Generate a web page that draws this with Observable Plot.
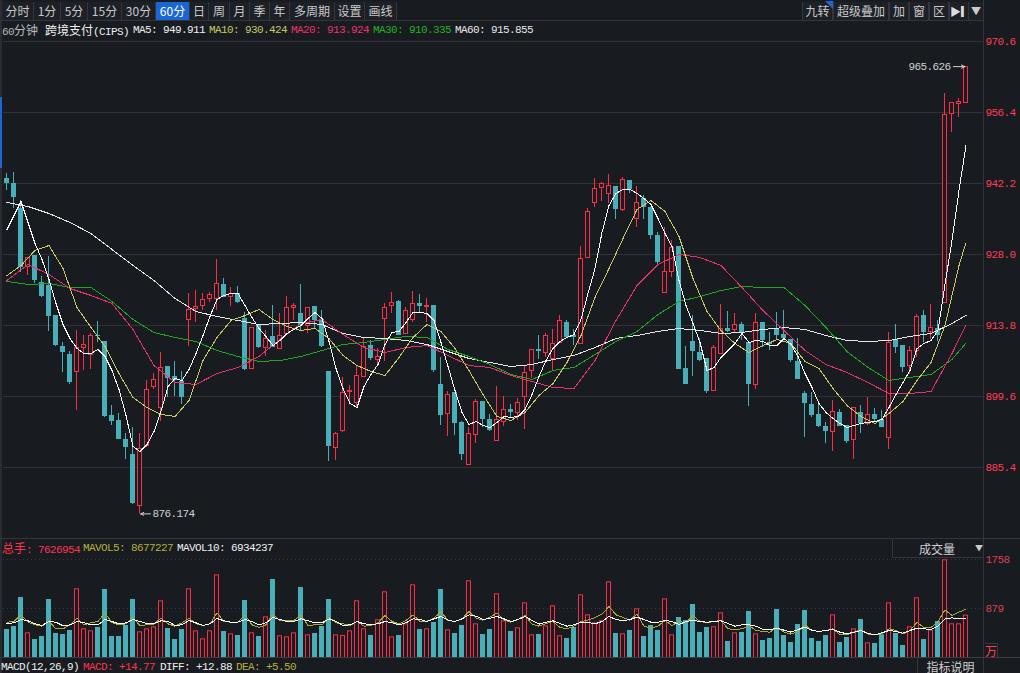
<!DOCTYPE html>
<html><head><meta charset="utf-8">
<script src="https://cdn.jsdelivr.net/npm/d3@7"></script>
<script src="https://cdn.jsdelivr.net/npm/@observablehq/plot@0.6"></script>
<style>
html,body{margin:0;padding:0;background:#181b20;width:1020px;height:673px;overflow:hidden}
#root{position:relative;width:1020px;height:673px;font-family:"Noto Sans CJK SC",sans-serif}
.abs{position:absolute;white-space:pre}
.mono{font-family:"Liberation Mono","Noto Sans CJK SC",monospace;font-size:11px;letter-spacing:-.6px;line-height:14px}
.cjk{font-family:"Noto Sans CJK SC",sans-serif;letter-spacing:0}
.btn{position:absolute;top:2px;height:18px;line-height:18px;text-align:center;font-size:12px;color:#c9c9c9;background:#1d2026;border-right:1px solid #34363b;box-sizing:border-box}
.btn.on{background:#1a66d6;color:#fff}
.ln{position:absolute;background:#33353a}
svg{display:block}
</style></head><body><div id="root"></div>
<script>
// ---------- price data ----------
const opens=[943.25,942.25,937.25,925.65,927.85,922.45,921.85,915.85,909.65,908.05,904.65,909.45,908.05,911.85,910.65,895.85,894.85,891.05,888.05,877.85,889.85,901.65,897.45,905.65,903.65,902.65,915.05,917.25,917.85,919.25,919.25,922.05,919.65,920.25,915.25,905.25,913.85,909.45,911.65,909.25,912.25,917.45,916.25,913.85,917.65,915.05,904.65,889.45,892.85,900.65,898.45,903.65,909.85,907.05,915.25,917.85,918.65,912.25,915.05,918.25,917.65,917.85,902.05,896.25,900.45,894.45,886.05,892.05,898.65,895.05,890.85,894.65,897.05,896.45,899.65,904.85,909.05,908.45,907.25,910.45,914.45,911.85,910.25,927.45,938.45,941.45,940.25,941.65,937.05,942.85,935.25,939.25,937.45,931.85,920.45,924.65,929.65,905.25,910.65,908.45,907.25,900.85,908.25,913.25,913.05,914.05,910.45,902.05,914.45,910.45,913.25,912.05,911.05,906.65,900.25,898.05,896.05,893.65,892.65,896.45,893.85,891.05,896.45,894.25,896.05,895.05,891.45,911.05,909.85,905.85,908.85,915.85,912.65,913.25,918.45,956.25,958.25,958.45];
const highs=[944.25,944.45,938.85,927.45,927.85,923.65,927.65,915.85,910.45,908.65,912.85,911.85,912.25,914.65,910.65,897.85,896.25,892.25,893.45,892.25,902.85,904.25,908.45,905.65,906.65,904.65,920.25,920.85,920.25,920.45,927.05,923.25,921.45,921.65,916.45,913.45,913.85,912.85,917.85,916.25,919.65,918.25,922.05,917.45,917.65,916.85,904.65,892.45,903.45,901.85,905.85,911.25,910.85,909.25,918.25,920.45,918.85,917.45,920.65,920.05,919.25,917.85,907.45,900.65,900.45,894.65,893.45,899.05,898.65,896.05,901.65,899.65,898.05,899.25,905.85,909.05,911.85,912.25,913.05,915.85,914.85,913.05,929.65,937.25,943.25,942.45,944.05,941.65,943.45,942.85,941.65,939.85,937.45,932.45,933.45,930.85,929.65,909.65,915.85,911.25,907.25,909.85,918.05,916.65,916.25,914.45,910.45,916.25,914.45,912.45,916.45,916.85,911.05,911.25,900.65,900.45,898.45,894.45,898.85,897.05,893.85,897.45,897.85,899.45,897.25,896.85,912.45,914.05,909.85,909.65,916.05,916.85,918.05,914.85,960.25,958.45,959.25,965.63];
const lows=[940.85,937.25,924.45,923.85,922.25,919.45,912.65,909.65,904.45,902.05,896.85,904.85,905.05,910.45,895.45,893.85,891.05,887.05,878.05,876.17,889.45,901.05,894.65,899.45,899.65,898.05,909.65,914.45,916.85,918.45,916.85,919.45,917.65,918.25,904.85,905.25,909.25,907.65,909.45,909.05,912.25,914.85,912.85,912.25,913.25,909.45,886.65,886.85,892.45,898.45,897.25,903.65,906.85,905.85,906.65,916.25,911.85,912.05,914.45,916.45,914.45,904.45,893.85,891.65,891.85,886.85,885.85,890.25,893.45,892.65,890.65,893.65,895.25,894.85,893.05,903.25,907.05,907.45,904.65,910.45,911.25,909.85,910.25,927.45,937.45,938.65,938.25,935.05,936.65,940.25,933.45,935.05,931.05,926.05,920.25,923.45,905.05,902.05,903.65,906.65,900.25,900.85,908.25,912.45,912.45,910.85,897.65,901.05,909.45,908.85,910.85,911.05,906.45,903.05,891.45,895.45,893.45,890.25,888.65,893.65,890.25,887.05,892.25,893.85,894.45,893.45,889.05,908.25,904.45,904.05,907.45,910.45,911.05,910.65,918.45,952.45,955.45,958.25];
const closes=[942.25,939.45,925.45,927.45,922.85,919.65,915.65,909.85,908.45,902.45,909.45,910.05,911.85,911.65,895.65,894.65,891.05,889.45,878.25,889.25,901.05,903.05,905.45,903.25,902.85,899.45,917.05,917.65,919.05,920.05,922.25,919.45,920.25,918.45,905.05,913.45,909.45,911.25,909.45,911.85,917.45,917.85,913.85,917.45,914.85,909.65,889.65,892.25,900.45,900.85,903.85,909.65,907.25,907.65,917.45,918.45,911.85,916.85,918.25,917.65,917.85,904.85,895.85,900.05,894.25,888.05,892.25,898.65,895.05,892.85,895.05,897.05,896.45,898.45,904.45,909.05,908.65,911.85,910.25,914.85,911.45,911.45,927.25,936.65,941.25,942.25,941.85,937.05,943.05,941.05,938.45,937.45,931.85,926.45,924.65,929.45,905.05,902.05,908.65,906.85,900.65,909.45,913.25,912.65,914.05,912.45,902.05,914.45,910.85,910.05,911.85,911.25,906.85,903.05,898.25,895.85,893.65,892.65,896.65,893.65,890.65,897.45,894.25,896.05,895.05,893.45,910.45,909.45,905.45,908.85,915.65,912.45,913.45,911.85,956.05,958.45,958.65,965.63];
const priceTicks=[970.6,956.4,942.2,928.0,913.8,899.6,885.4];
const ma5=[933.05,935.85,938.65,934.45,930.25,927.05,923.05,918.25,914.05,911.25,909.25,908.25,908.25,909.05,907.65,904.85,901.05,895.85,889.65,888.65,890.05,892.65,896.65,901.65,903.25,902.85,905.05,908.25,911.85,915.65,919.05,919.85,920.25,920.25,917.85,915.45,913.25,911.65,909.85,910.85,912.25,913.05,913.85,915.25,916.45,915.25,910.65,905.25,901.25,898.25,897.45,901.65,904.05,906.05,910.05,912.45,912.65,914.45,916.45,916.45,916.25,914.85,910.45,905.65,900.85,896.45,894.05,894.65,893.85,893.45,894.45,895.65,895.45,895.65,897.05,900.05,903.65,906.85,909.25,910.65,911.45,912.05,915.05,920.25,925.25,932.45,937.85,940.25,941.05,941.05,940.25,939.25,938.05,935.25,932.25,929.65,922.85,917.85,914.25,910.45,904.85,905.45,907.45,908.85,910.25,912.25,910.45,910.85,910.65,909.85,909.85,911.25,910.05,907.65,904.25,901.45,898.25,896.45,895.25,894.25,893.45,893.85,894.25,894.45,894.65,895.05,897.45,900.05,902.45,904.85,909.25,910.25,910.85,912.85,922.05,930.85,940.85,949.91];
const ma10Idx=[0,2,4,6,8,10,12,14,16,18,20,22,24,26,28,30,32,34,36,38,40,42,44,46,48,50,52,54,56,58,60,62,64,66,68,70,72,74,76,78,80,82,84,86,88,90,92,94,96,98,100,102,104,106,108,110,112,114,116,118,120,122,124,126,128,130,132,134,136,137];
const ma10=[923.85,925.85,928.85,929.85,925.25,917.45,913.45,909.65,904.25,899.45,897.45,896.05,895.65,898.85,906.85,911.45,914.85,915.85,917.05,915.05,913.65,912.85,913.25,911.25,907.85,905.85,904.65,903.85,907.45,911.45,914.05,912.65,909.25,904.85,900.05,895.65,894.85,896.45,899.85,902.25,906.45,911.85,919.45,925.25,931.25,937.05,938.85,936.65,931.65,923.25,916.65,912.85,910.25,908.45,909.85,911.05,910.25,906.65,905.25,901.25,897.85,895.65,894.25,896.25,898.65,902.85,906.45,913.85,925.85,930.42];
const slowIdx=[0,3,6,9,12,15,18,21,24,27,30,33,36,39,42,45,48,51,54,57,60,63,66,69,72,75,78,81,84,87,90,93,96,99,102,105,108,111,114,117,120,123,126,129,132,135,137];
const ma20=[922.85,926.05,924.05,921.25,919.85,918.25,913.05,905.85,902.45,902.05,904.25,905.45,907.65,911.05,914.25,915.05,912.05,909.45,908.45,909.45,909.85,907.85,905.85,905.45,903.85,902.65,901.45,901.25,906.85,914.85,921.85,926.05,928.05,927.45,925.85,921.45,916.85,912.85,908.85,906.05,904.45,902.45,900.25,900.25,900.65,908.25,913.92];
const ma30=[922.65,922.05,922.25,921.45,921.45,918.65,915.05,912.45,911.45,910.65,908.85,907.65,906.65,906.85,907.65,908.85,910.05,910.45,911.05,911.65,911.45,909.05,907.65,906.05,904.05,903.05,904.85,905.45,908.05,910.65,912.65,916.05,918.65,919.65,920.85,921.65,921.45,921.45,917.85,913.45,908.65,905.45,902.85,903.45,904.05,907.05,910.34];
const ma60=[938.45,937.65,936.25,934.45,932.25,929.05,925.85,922.85,919.25,916.65,915.65,914.85,914.05,914.25,914.45,914.05,912.25,911.45,911.25,910.85,910.05,908.65,907.25,906.45,905.65,906.05,907.05,907.85,909.45,911.25,911.85,912.65,913.25,912.85,912.25,912.45,913.05,913.45,913.05,911.85,910.85,910.65,910.85,911.65,912.25,914.25,915.86];
const maxLabel=965.626, minLabel=876.174;
// ---------- volume data (万手) ----------
const volume=[504,558,1080,444,324,378,1044,432,414,486,1236,516,480,540,1224,378,378,576,1044,462,516,552,1020,522,324,504,1236,480,336,480,1488,468,426,396,1026,444,378,732,1404,390,372,444,1260,408,432,558,1044,408,396,480,1020,516,396,678,1182,372,396,606,1308,504,516,630,1224,498,432,576,1380,606,414,504,1146,660,468,534,984,408,414,570,930,390,342,540,1128,768,624,660,1362,432,426,486,876,378,576,486,1056,408,720,666,954,450,540,552,804,288,444,450,828,426,306,342,864,396,270,594,846,342,288,396,768,270,360,516,684,264,252,408,984,432,216,552,1074,324,492,648,1758,606,606,763];
const mavol5=[636,648,768,636,588,564,648,516,516,588,708,588,624,648,804,624,588,606,714,576,588,600,708,606,564,624,708,606,576,606,804,648,636,636,768,588,540,588,786,660,660,666,768,576,588,588,726,624,606,576,648,564,576,624,756,648,606,666,768,648,654,708,828,666,648,696,828,708,672,726,804,672,636,684,756,600,564,612,648,540,516,564,648,672,720,780,918,768,720,672,780,564,528,564,666,576,648,624,756,648,624,648,666,516,504,516,576,486,468,456,546,456,420,468,588,486,468,486,516,408,408,456,504,420,408,426,516,486,426,486,636,534,540,648,858,756,816,868];
const mavol10=[612,624,684,660,606,576,648,636,570,588,648,624,588,588,684,648,606,624,684,648,612,612,660,648,576,588,666,624,576,606,702,660,636,636,684,648,588,624,720,684,648,648,696,660,624,624,696,648,576,588,648,606,594,606,648,624,588,624,696,684,648,696,738,672,648,696,768,744,684,708,738,696,648,684,738,666,600,636,660,612,564,588,636,630,606,648,738,684,660,684,726,684,636,636,666,648,594,648,672,648,636,648,660,612,564,588,588,564,504,504,528,492,456,504,546,492,468,486,504,456,426,456,486,432,408,444,486,468,438,486,528,516,504,564,696,714,696,693];
const volTicks=[879,1758];
// ---------- labels ----------
const tabs=[["分时",2,32],["1分",34,27],["5分",61,27],["15分",88,34],["30分",122,34],["60分",156,34],["日",190,19],["周",209,21],["月",230,20],["季",250,20],["年",270,20],["多周期",290,45],["设置",335,30],["画线",365,32]];
const toolsRight=[["九转",802,31],["超级叠加",833,56],["加",889,20],["窗",909,20],["区",929,20]];
const infoLine=[["60分钟",2,"#b8b8b8"],["跨境支付(CIPS)",45,"#f0f0f0"],["MA5: 949.911",133,"#f0f0f0"],["MA10: 930.424",209,"#c8c864"],["MA20: 913.924",291,"#ee2f72"],["MA30: 910.335",373,"#1fb51f"],["MA60: 915.855",455,"#e8e8e8"]];
const volLine=[["总手: 7626954",2,"#ff3350"],["MAVOL5: 8677227",83,"#b2b23c"],["MAVOL10: 6934237",177,"#f0f0f0"]];
const macdLine=[["MACD(12,26,9)",1,"#f0f0f0"],["MACD: +14.77",83,"#ff3350"],["DIFF: +12.88",160,"#f0f0f0"],["DEA: +5.50",236,"#b2b23c"]];

const BG="#181b20",RED="#ff2c46",TEAL="#48aeb8",GRID="#303237",AXIS="#ff3d55";
const root=document.getElementById("root");
function el(cls,css,txt){const d=document.createElement("div");d.className=cls;d.style.cssText=css;if(txt!=null)d.textContent=txt;root.appendChild(d);return d;}

const candles=opens.map((o,i)=>({i,open:o,high:highs[i],low:lows[i],close:closes[i],up:closes[i]>=o}));
const bars=volume.map((v,i)=>({i,v,up:candles[i].up}));
const xScale={type:"linear",domain:[-0.5,139.5],axis:null};
const mono='"Liberation Mono",monospace';

const main=Plot.plot({
  width:1020,height:510,marginLeft:3,marginRight:37,marginTop:0,marginBottom:0,
  style:{background:"transparent",fontFamily:mono,fontSize:"11px",letterSpacing:"-0.6px",color:AXIS},
  x:xScale,
  y:{domain:[871.25,973.25],axis:null},
  marks:[
    Plot.ruleY(priceTicks,{stroke:GRID,strokeWidth:1,dy:-0.25}),
    Plot.axisY(priceTicks,{anchor:"right",tickSize:0,tickPadding:2,tickFormat:d=>d.toFixed(1),color:AXIS,label:null}),
    Plot.ruleX(candles.filter(d=>!d.up),{x:"i",y1:"low",y2:"high",stroke:TEAL,strokeWidth:1,dx:-0.5}),
    Plot.rect(candles.filter(d=>!d.up),{x1:d=>d.i-.5,x2:d=>d.i+.5,y1:"open",y2:"close",insetLeft:1,insetRight:1,fill:TEAL}),
    Plot.ruleX(candles.filter(d=>d.up),{x:"i",y1:"low",y2:"high",stroke:RED,strokeWidth:1,dx:-0.5}),
    Plot.rect(candles.filter(d=>d.up),{x1:d=>d.i-.5,x2:d=>d.i+.5,y1:"open",y2:"close",insetLeft:1.5,insetRight:1.5,fill:BG,stroke:RED,strokeWidth:1,dy:0.5}),
    Plot.line(ma60,{x:(d,i)=>slowIdx[i],y:d=>d,stroke:"#e6e6e6",strokeWidth:1,shapeRendering:"crispEdges"}),
    Plot.line(ma30,{x:(d,i)=>slowIdx[i],y:d=>d,stroke:"#1fa81f",strokeWidth:1,shapeRendering:"crispEdges"}),
    Plot.line(ma20,{x:(d,i)=>slowIdx[i],y:d=>d,stroke:"#e8306e",strokeWidth:1,shapeRendering:"crispEdges"}),
    Plot.line(ma10,{x:(d,i)=>ma10Idx[i],y:d=>d,stroke:"#c8c864",strokeWidth:1,shapeRendering:"crispEdges"}),
    Plot.line(ma5,{x:(d,i)=>i,y:d=>d,stroke:"#ffffff",strokeWidth:1,shapeRendering:"crispEdges"}),
    Plot.text([maxLabel],{x:()=>137,y:d=>d,text:d=>d.toFixed(3),textAnchor:"end",dx:-15.5,fill:"#d0d0d0"}),
    Plot.text([minLabel],{x:()=>19,y:d=>d,text:d=>d.toFixed(3),textAnchor:"start",dx:12.5,fill:"#d0d0d0"}),
    Plot.arrow([maxLabel],{x1:()=>135.2,x2:()=>136.85,y1:d=>d,y2:d=>d,stroke:"#d0d0d0",strokeWidth:1,headLength:6,headAngle:50}),
    Plot.arrow([minLabel],{x1:()=>20.5,x2:()=>19.1,y1:d=>d,y2:d=>d,stroke:"#d0d0d0",strokeWidth:1,headLength:6,headAngle:50})
  ]
});
main.style.position="absolute";main.style.left="0";main.style.top="28px";
root.appendChild(main);

const vol=Plot.plot({
  width:1020,height:119,marginLeft:3,marginRight:37,marginTop:20,marginBottom:1,
  style:{background:"transparent",fontFamily:mono,fontSize:"11px",letterSpacing:"-0.6px",color:"#d8404f"},
  x:xScale,
  y:{domain:[0,1764],axis:null},
  marks:[
    Plot.ruleY(volTicks,{stroke:"#3c3e42",strokeDasharray:"1,3",dy:-0.2}),
    Plot.axisY(volTicks,{anchor:"right",tickSize:0,tickPadding:2,tickFormat:d=>String(d),color:"#d8404f",label:null}),
    Plot.rect(bars.filter(d=>!d.up),{x1:d=>d.i-.5,x2:d=>d.i+.5,y1:0,y2:"v",insetLeft:1,insetRight:1,fill:TEAL}),
    Plot.rect(bars.filter(d=>d.up),{x1:d=>d.i-.5,x2:d=>d.i+.5,y1:0,y2:"v",insetLeft:1.5,insetRight:1.5,fill:BG,stroke:RED,strokeWidth:1,dy:0.5}),
    Plot.line(mavol5,{x:(d,i)=>i,y:d=>d,stroke:"#a8a832",strokeWidth:1,shapeRendering:"crispEdges"}),
    Plot.line(mavol10,{x:(d,i)=>i,y:d=>d,stroke:"#ffffff",strokeWidth:1,shapeRendering:"crispEdges"})
  ]
});
vol.style.position="absolute";vol.style.left="0";vol.style.top="539px";
root.appendChild(vol);

// frame lines
el("ln","left:0;top:0;width:2px;height:673px;background:#2a2c31");
el("ln","left:0;top:97px;width:2px;height:71px;background:#1a66d6");
el("ln","left:983px;top:0;width:1px;height:673px");
el("ln","left:0;top:20px;width:984px;height:1px");
el("ln","left:0;top:538px;width:1020px;height:1px");
el("ln","left:0;top:657px;width:1020px;height:1px;background:#3a3d42");

// toolbar
for(const [t,x,w] of tabs)el("btn"+(t==="60分"?" on":""),`left:${x}px;width:${w}px`,t);
for(const [t,x,w] of toolsRight)el("btn",`left:${x}px;width:${w}px;border-left:1px solid #34363b`,t);
el("abs","left:825px;top:1px;width:0;height:0;border-top:8px solid #1a66d6;border-left:8px solid transparent");
el("btn","left:949px;width:20px;color:#ddd;font-size:11px;border-left:1px solid #34363b","▶▎");
el("btn","left:969px;width:15px;color:#ccc;font-size:10px","▼");

// info rows
function row(items,y){for(const [t,x,c] of items){const cjk=/[\u4e00-\u9fff]/.test(t);
  const d=el("abs mono",`left:${x}px;top:${y}px;color:${c}`);
  if(cjk){t.split(/([\u4e00-\u9fff]+)/).forEach(p=>{if(!p)return;const s=document.createElement("span");s.textContent=p;if(/[\u4e00-\u9fff]/.test(p)){s.className="cjk";s.style.fontSize="12px";}d.appendChild(s);});}
  else d.textContent=t;}}
row(infoLine,23);row(volLine,541);row(macdLine,660);

// volume controls
el("abs","left:892px;top:539px;width:91px;height:19px;border:1px solid #34363b;border-top:0;border-right:0;box-sizing:border-box");
el("abs cjk","left:919px;top:540px;font-size:12px;line-height:18px;color:#d0d0d0","成交量");
el("abs","left:975px;top:541px;font-size:8px;line-height:14px;color:#ccc","▼");
el("abs cjk","left:985px;top:643px;width:13px;height:14px;line-height:14px;text-align:center;font-size:12px;color:#ff3d55;border:1px solid #34363b;border-bottom:0;border-left:0;box-sizing:border-box","万");
el("abs cjk","left:917px;top:658px;width:66px;height:15px;line-height:17px;text-align:center;font-size:12px;color:#d0d0d0;border-left:1px solid #34363b;box-sizing:border-box","指标说明");
</script></body></html>
